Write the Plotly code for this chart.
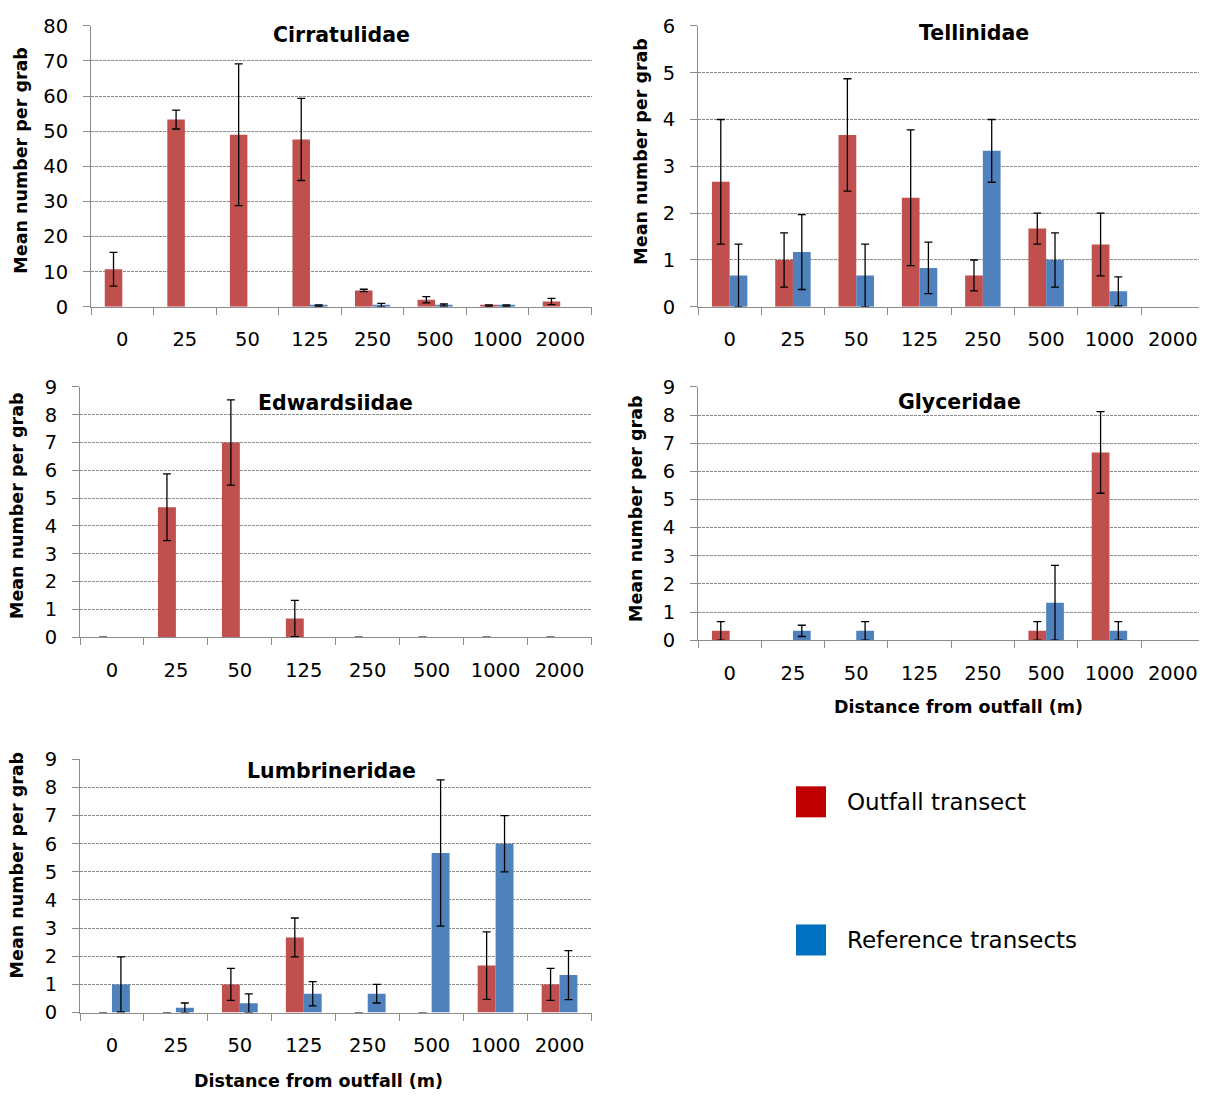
import plotly.graph_objects as go

# ---------------- data ----------------
distances = ["0", "25", "50", "125", "250", "500", "1000", "2000"]

cirr_out = [10.67, 53.33, 49.0, 47.67, 4.67, 2.0, 0.33, 1.5]
cirr_out_se = [4.8, 2.7, 20.2, 11.7, 0.33, 0.9, 0.2, 0.9]
cirr_ref = [0, 0, 0, 0.33, 0.5, 0.5, 0.33, 0]
cirr_ref_se = [None, None, None, 0.2, 0.5, 0.3, 0.2, None]

tell_out = [2.67, 1.0, 3.67, 2.33, 0.67, 1.67, 1.33, 0]
tell_out_se = [1.33, 0.58, 1.2, 1.45, 0.33, 0.33, 0.67, None]
tell_ref = [0.67, 1.17, 0.67, 0.83, 3.33, 1.0, 0.33, 0]
tell_ref_se = [0.67, 0.8, 0.67, 0.55, 0.67, 0.58, 0.31, None]

edw_out = [0, 4.67, 7.0, 0.67, 0, 0, 0, 0]
edw_out_se = [0, 1.2, 1.53, 0.65, 0, 0, 0, 0]
edw_ref = [0, 0, 0, 0, 0, 0, 0, 0]
edw_ref_se = [None, None, None, None, None, None, None, None]

glyc_out = [0.33, 0, 0, 0, 0, 0.33, 6.67, 0]
glyc_out_se = [0.33, None, None, None, None, 0.33, 1.45, None]
glyc_ref = [0, 0.33, 0.33, 0, 0, 1.33, 0.33, 0]
glyc_ref_se = [None, 0.2, 0.33, None, None, 1.33, 0.33, None]

lumb_out = [0, 0, 1.0, 2.67, 0, 0, 1.67, 1.0]
lumb_out_se = [0, 0, 0.57, 0.69, 0, 0, 1.2, 0.57]
lumb_ref = [1.0, 0.17, 0.33, 0.67, 0.67, 5.67, 6.0, 1.33]
lumb_ref_se = [0.98, 0.17, 0.33, 0.43, 0.33, 2.6, 1.0, 0.87]

panel_titles = ["Cirratulidae", "Tellinidae", "Edwardsiidae", "Glyceridae", "Lumbrineridae"]
y_maxes = [80, 6, 9, 9, 9]
y_dticks = [10, 1, 1, 1, 1]
series_names = ["Outfall transect", "Reference transects"]
y_title = "Mean number per grab"
x_title = "Distance from outfall (m)"

# ---------------- layout helpers ----------------
WIN_W, WIN_H = 1207, 1097
OFF_X = 8            # page body margin
OFF_Y, SCALE_Y = 19.5, 0.978   # observed vertical placement of the page in the photo
W, H = WIN_W - 2 * OFF_X, 1097
TOP_MIN = 7          # keep top labels inside the figure

def PX(p):
    return (p - OFF_X) / W

def PY(p):
    f = max((p - OFF_Y) / SCALE_Y, TOP_MIN)
    return 1 - f / H

RED, BLUE = "#C0504D", "#4F81BD"
LEG_RED, LEG_BLUE = "#C00000", "#0070C0"
AXC = "#8C8C8C"
FONT = "DejaVu Sans"
TICK_SIZE = 19.5

# boxes in reference pixel coordinates (left, right, top, bottom)
boxes = [
    (91, 591.5, 15, 307),
    (698, 698 + 8 * 63.3, 15, 307),
    (80, 591.5, 387, 637),
    (698, 698 + 8 * 63.3, 387, 640),
    (80, 591.5, 759, 1012),
]

panels = [
    (cirr_out, cirr_out_se, cirr_ref, cirr_ref_se),
    (tell_out, tell_out_se, tell_ref, tell_ref_se),
    (edw_out, edw_out_se, edw_ref, edw_ref_se),
    (glyc_out, glyc_out_se, glyc_ref, glyc_ref_se),
    (lumb_out, lumb_out_se, lumb_ref, lumb_ref_se),
]

fig = go.Figure()

def shown(vals, se):
    return [v if (v > 0 or s is not None) else None for v, s in zip(vals, se)]

for i, (o, ose, r, rse) in enumerate(panels):
    sfx = "" if i == 0 else str(i + 1)
    for vals, se, col, off, name in [(o, ose, RED, -0.28, series_names[0]),
                                     (r, rse, BLUE, 0.0, series_names[1])]:
        fig.add_trace(go.Bar(
            x=distances, y=shown(vals, se), name=name,
            xaxis="x" + sfx, yaxis="y" + sfx,
            width=0.28, offset=off,
            marker=dict(color=col, line=dict(width=0)),
            error_y=dict(type="data", array=[s if s is not None else 0 for s in se],
                         visible=any(s is not None for s in se),
                         color="black", thickness=1.3, width=4),
            showlegend=False,
        ))

layout = dict(
    width=W, height=H, margin=dict(l=0, r=0, t=0, b=0),
    paper_bgcolor="white", plot_bgcolor="white",
    barmode="overlay", font=dict(family=FONT, size=20, color="black"),
)

annotations = []
right_limit = WIN_W - OFF_X
for i, (l, rgt, t, b) in enumerate(boxes):
    sfx = "" if i == 0 else str(i + 1)
    catw = (rgt - l) / 8
    right = min(rgt, right_limit)
    xr = [-0.5, -0.5 + (right - l) / catw]
    layout["xaxis" + sfx] = dict(
        domain=[PX(l), PX(right)], anchor="y" + sfx, type="category",
        range=xr, showline=True, linecolor=AXC, linewidth=1,
        ticks="outside", tickson="boundaries", ticklen=7, tickcolor=AXC,
        showgrid=False, zeroline=False, ticklabelstandoff=15,
        tickfont=dict(family=FONT, size=TICK_SIZE, color="black"), fixedrange=True,
    )
    layout["yaxis" + sfx] = dict(
        domain=[PY(b), PY(t)], anchor="x" + sfx, range=[0, y_maxes[i]],
        dtick=y_dticks[i], tick0=0, showline=True, linecolor=AXC, linewidth=1,
        ticks="outside", ticklen=7, tickcolor=AXC, showgrid=True,
        gridcolor="#8C8C8C", griddash="3px,1px", gridwidth=1, zeroline=False,
        ticklabelstandoff=11,
        tickfont=dict(family=FONT, size=TICK_SIZE, color="black"), fixedrange=True,
    )

# panel titles
title_pos = [(341, 35), (974, 33), (335, 403), (959, 402), (331, 771)]
for (x, y), txt in zip(title_pos, panel_titles):
    annotations.append(dict(x=PX(x), y=PY(y), xref="paper", yref="paper",
                            text="<b>%s</b>" % txt, showarrow=False,
                            xanchor="center", yanchor="middle",
                            font=dict(family=FONT, size=20.5, color="black")))

# y-axis titles
ytitle_pos = [(21, 161), (641, 152), (17, 506), (636, 509), (17, 865)]
for x, y in ytitle_pos:
    annotations.append(dict(x=PX(x), y=PY(y), xref="paper", yref="paper",
                            text="<b>%s</b>" % y_title, showarrow=False, textangle=-90,
                            xanchor="center", yanchor="middle",
                            font=dict(family=FONT, size=17.5, color="black")))

# x-axis titles
for x, y in [(958, 707), (318, 1080)]:
    annotations.append(dict(x=PX(x), y=PY(y), xref="paper", yref="paper",
                            text="<b>%s</b>" % x_title, showarrow=False,
                            xanchor="center", yanchor="middle",
                            font=dict(family=FONT, size=17.5, color="black")))

# legend (drawn manually)
shapes = []
for (y0, y1), col, name in [((786, 817), LEG_RED, series_names[0]),
                            ((924, 955), LEG_BLUE, series_names[1])]:
    shapes.append(dict(type="rect", xref="paper", yref="paper",
                       x0=PX(796), x1=PX(826), y0=PY(y1), y1=PY(y0),
                       fillcolor=col, line=dict(width=0)))
    annotations.append(dict(x=PX(845), y=PY((y0 + y1) / 2), xref="paper", yref="paper",
                            text=name, showarrow=False, xanchor="left", yanchor="middle",
                            font=dict(family=FONT, size=23, color="black")))

layout["annotations"] = annotations
layout["shapes"] = shapes
fig.update_layout(**layout)
fig.write_html("out.html")
